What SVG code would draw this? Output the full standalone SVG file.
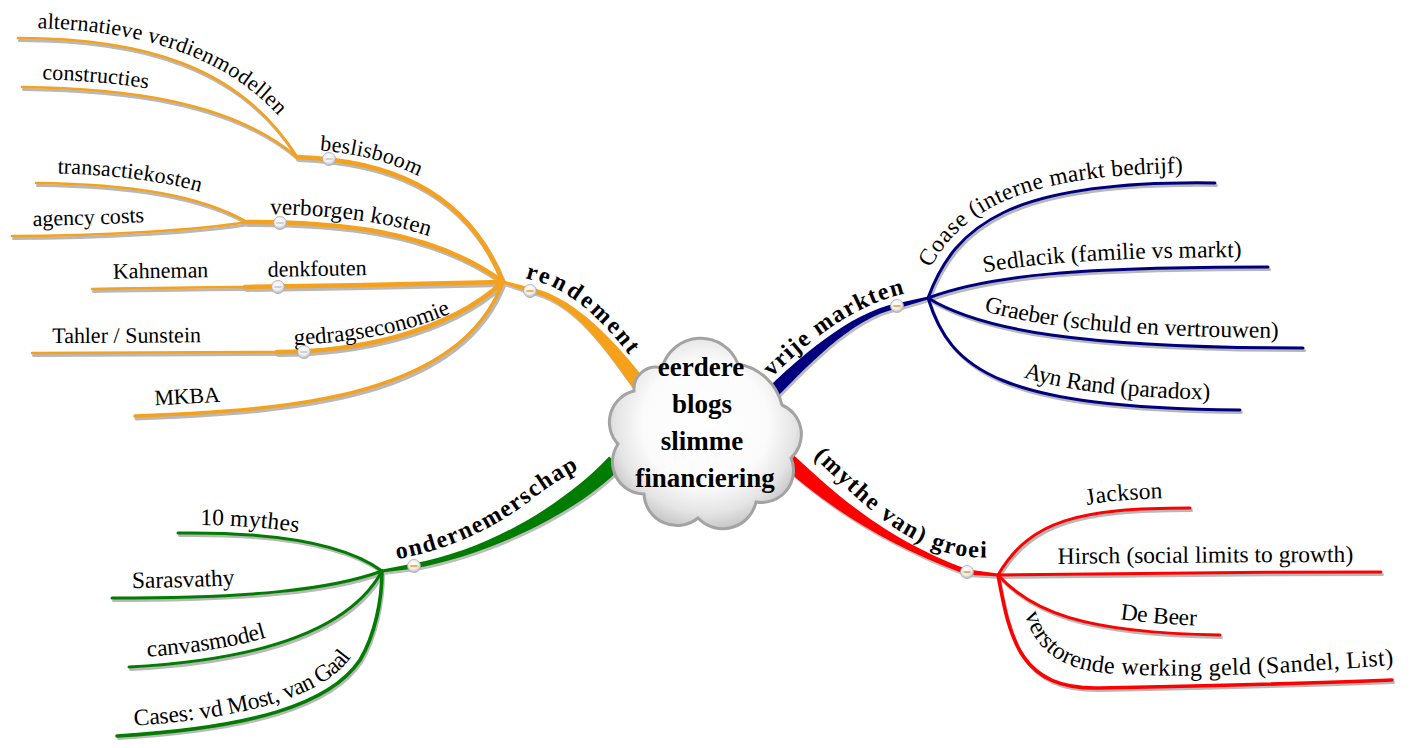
<svg xmlns="http://www.w3.org/2000/svg" width="1410" height="748" viewBox="0 0 1410 748">
<style>
.ln{fill:none;stroke-linecap:round;stroke-linejoin:round}
.sh{fill:none;stroke:#b8b8b8;stroke-linecap:round}
.o{stroke:#f6a11c}
.b{stroke:#00007e}
.r{stroke:#ff0000}
.g{stroke:#007c00}
.w2{stroke-width:4.5}
.w1{stroke-width:2.6}
text{font-family:'Liberation Serif','Times New Roman',serif;fill:#000}
.t{font-size:22px}
.tr{font-size:23.5px}
.tb{font-weight:bold;letter-spacing:2px;font-size:24px}
.ct{font-size:27px;font-weight:bold;text-anchor:middle}
</style>
<defs>
<radialGradient id="cloudG" cx="50%" cy="45%" r="55%">
<stop offset="0" stop-color="#ffffff"/>
<stop offset="0.6" stop-color="#fbfbfb"/>
<stop offset="0.85" stop-color="#e4e4e4"/>
<stop offset="1" stop-color="#c9c9c9"/>
</radialGradient>
<radialGradient id="dotG" cx="45%" cy="35%" r="65%">
<stop offset="0" stop-color="#ffffff"/>
<stop offset="0.6" stop-color="#eeeeee"/>
<stop offset="1" stop-color="#b5b5b5"/>
</radialGradient>
<g id="dotA"><circle r="6.5" fill="url(#dotG)" stroke="#a8a8a8" stroke-width="0.8"/><line x1="-3.5" y1="0" x2="3.5" y2="0" stroke="#f4a64a" stroke-width="1.8"/></g>
<g id="dotB"><circle r="6.5" fill="url(#dotG)" stroke="#a8a8a8" stroke-width="0.8"/><line x1="-3.5" y1="0" x2="3.5" y2="0" stroke="#c8c8c8" stroke-width="1.6"/></g>
<!-- orange -->
<path id="p_alt" d="M18,38 C140,38 240,65 297,157"/>
<path id="p_con" d="M22,87 C120,88 230,100 297,157"/>
<path id="p_bes" d="M297,157 C380,160 465,185 503,282"/>
<path id="p_tra" d="M36,183 C130,184 200,195 247,222"/>
<path id="p_age" d="M12,236 C100,236 200,230 247,222"/>
<path id="p_ver" d="M247,222 C330,222 430,228 503,282"/>
<path id="p_kah" d="M92,289 C150,288 200,287 245,287"/>
<path id="p_den" d="M245,287 C330,286 420,284 503,282"/>
<path id="p_tah" d="M32,353 C120,353 200,352 277,352"/>
<path id="p_ged" d="M277,352 C350,352 445,335 503,282"/>
<path id="t_ged" d="M290,345 C350,343 420,333 472,302"/>
<path id="p_mkb" d="M135,416 C300,410 460,395 503,282"/>
<path id="p_ren" d="M503,282 L530,290 C580,300 620,360 648,395"/>
<!-- green -->
<path id="p_myt" d="M178,533 C260,532 340,540 382,571"/>
<path id="p_sar" d="M112,598 C250,598 330,590 382,571"/>
<path id="p_can" d="M129,667 C260,660 350,630 382,571"/>
<path id="p_cas" d="M117,736 C250,728 330,705 360,660 C375,635 382,600 382,571"/>
<path id="t_ond" d="M385,561 C450,552 500,525 535,497 C555,482 575,470 605,456"/>
<!-- blue -->
<path id="p_coa" d="M928,298 C955,225 1010,180 1215,183"/>
<path id="p_sed" d="M928,298 C990,275 1080,267 1268,267"/>
<path id="p_gra" d="M928,298 C980,330 1080,348 1303,348"/>
<path id="p_ayn" d="M928,298 C950,370 1000,408 1240,410"/>
<path id="t_vri" d="M764,385 C797,352 840,313 892,297 L935,285"/>
<!-- red -->
<path id="p_jac" d="M998,575 C1030,520 1080,508 1190,508"/>
<path id="p_hir" d="M998,575 C1100,573 1250,572 1381,572"/>
<path id="p_deb" d="M998,575 C1030,610 1080,633 1220,635"/>
<path id="p_vst" d="M998,575 C1010,640 1020,690 1100,688 C1200,686 1300,684 1392,680"/>
<path id="t_vst" d="M1024,610 C1032,645 1055,668 1105,673 C1200,680 1300,672 1405,664"/>
<path id="t_gro" d="M806,450 C843,483 880,527 930,547 C955,557 975,559 1008,557"/>
</defs>

<rect width="1410" height="748" fill="#ffffff"/>

<g id="connectors">
  <g transform="translate(1.5,2.5)" class="sh" stroke-width="3">
    <use href="#p_alt"/><use href="#p_con"/><use href="#p_bes" stroke-width="5"/><use href="#p_tra"/><use href="#p_age"/>
    <use href="#p_ver" stroke-width="5"/><use href="#p_kah"/><use href="#p_den" stroke-width="5"/><use href="#p_tah"/><use href="#p_ged" stroke-width="5"/><use href="#p_mkb" stroke-width="4"/>
    <use href="#p_myt"/><use href="#p_sar"/><use href="#p_can"/><use href="#p_cas"/>
    <use href="#p_coa"/><use href="#p_sed"/><use href="#p_gra"/><use href="#p_ayn"/>
    <use href="#p_jac"/><use href="#p_hir"/><use href="#p_deb"/><use href="#p_vst"/>
  </g>
  <g fill="#bdbdbd" transform="translate(1.5,2.5)">
    <path d="M653.9,390.3 C625.9,355.3 580.5,297.5 530.5,287.5 L503,280.5 L503,283.5 L529.5,292.5 C579.5,302.5 614.1,364.7 642.1,399.7 Z"/>
    <path d="M760.4,395.4 C795.4,360.4 849.5,312.5 896.5,303.5 L928,296.5 L928,299.5 L897.5,308.5 C850.5,317.5 804.6,369.6 769.6,404.6 Z"/>
    <path d="M787.4,449.2 C830.4,489.2 880.9,537.6 967.9,569.6 L998,573.5 L998,576.5 L966.1,574.4 C879.1,542.4 819.6,500.8 776.6,460.8 Z"/>
    <path d="M609.1,456.6 C574.1,494.6 499.5,547.5 413.5,563.5 L382,569.5 L382,572.5 L414.5,568.5 C500.5,552.5 585.9,505.4 620.9,467.4 Z"/>
  </g>
  <path fill="#f6a11c" d="M653.9,390.3 C625.9,355.3 580.5,297.5 530.5,287.5 L503,280.5 L503,283.5 L529.5,292.5 C579.5,302.5 614.1,364.7 642.1,399.7 Z"/>
  <path fill="#00007e" d="M760.4,395.4 C795.4,360.4 849.5,312.5 896.5,303.5 L928,296.5 L928,299.5 L897.5,308.5 C850.5,317.5 804.6,369.6 769.6,404.6 Z"/>
  <path fill="#ff0000" d="M787.4,449.2 C830.4,489.2 880.9,537.6 967.9,569.6 L998,573.5 L998,576.5 L966.1,574.4 C879.1,542.4 819.6,500.8 776.6,460.8 Z"/>
  <path fill="#007c00" d="M609.1,456.6 C574.1,494.6 499.5,547.5 413.5,563.5 L382,569.5 L382,572.5 L414.5,568.5 C500.5,552.5 585.9,505.4 620.9,467.4 Z"/>
  <g class="ln o w1">
    <use href="#p_alt"/><use href="#p_con"/><use href="#p_tra"/><use href="#p_age"/><use href="#p_kah"/><use href="#p_tah"/>
  </g>
  <g class="ln o w2">
    <use href="#p_bes"/><use href="#p_ver"/><use href="#p_den"/><use href="#p_ged"/><use href="#p_mkb" stroke-width="3.5"/>
  </g>
  <g class="ln g" stroke-width="3">
    <use href="#p_myt"/><use href="#p_sar"/><use href="#p_can"/><use href="#p_cas" stroke-width="3.6"/>
  </g>
  <g class="ln b" stroke-width="3">
    <use href="#p_coa"/><use href="#p_sed"/><use href="#p_gra"/><use href="#p_ayn"/>
  </g>
  <g class="ln r" stroke-width="3">
    <use href="#p_jac"/><use href="#p_hir"/><use href="#p_deb"/><use href="#p_vst" stroke-width="3.6"/>
  </g>
</g>

<g id="center">
  <path d="M662,368 A40,40 0 0 1 738,364 A55,55 0 0 1 782,405 A32,32 0 0 1 791,458 A32,32 0 0 1 756,502 A34,34 0 0 1 698,518 A33,33 0 0 1 644,494 A32,32 0 0 1 618,444 A32,32 0 0 1 634,391 A22,22 0 0 1 662,368 Z" fill="url(#cloudG)" stroke="#a3a3a3" stroke-width="3"/>
  <text class="ct" x="701" y="376">eerdere</text>
  <text class="ct" x="702" y="413">blogs</text>
  <text class="ct" x="702" y="450">slimme</text>
  <text class="ct" x="705" y="487">financiering</text>
</g>

<g id="node-rendement">
  <text class="tb"><textPath href="#p_ren" startOffset="20"><tspan dy="-10">rendement</tspan></textPath></text>
  <use href="#dotA" transform="translate(530,291)"/>
</g>
<g id="node-beslisboom">
  <text class="t"><textPath href="#p_bes" startOffset="22"><tspan dy="-8">beslisboom</tspan></textPath></text>
  <use href="#dotB" transform="translate(329,159)"/>
</g>
<g id="node-alternatieve"><text class="t"><textPath href="#p_alt" startOffset="19"><tspan dy="-10">alternatieve verdienmodellen</tspan></textPath></text></g>
<g id="node-constructies"><text class="t"><textPath href="#p_con" startOffset="20"><tspan dy="-8">constructies</tspan></textPath></text></g>
<g id="node-verborgen">
  <text class="t" style="font-size:23px"><textPath href="#p_ver" startOffset="23"><tspan dy="-8">verborgen kosten</tspan></textPath></text>
  <use href="#dotB" transform="translate(280,223)"/>
</g>
<g id="node-transactiekosten"><text class="t"><textPath href="#p_tra" startOffset="21"><tspan dy="-10">transactiekosten</tspan></textPath></text></g>
<g id="node-agency"><text class="t"><textPath href="#p_age" startOffset="21"><tspan dy="-10">agency costs</tspan></textPath></text></g>
<g id="node-denkfouten">
  <text class="t"><textPath href="#p_den" startOffset="23"><tspan dy="-10">denkfouten</tspan></textPath></text>
  <use href="#dotB" transform="translate(278,287)"/>
</g>
<g id="node-kahneman"><text class="t"><textPath href="#p_kah" startOffset="21"><tspan dy="-10">Kahneman</tspan></textPath></text></g>
<g id="node-gedragseconomie">
  <text class="t" style="font-size:23px"><textPath href="#t_ged" startOffset="4">gedragseconomie</textPath></text>
  <use href="#dotB" transform="translate(304,352)"/>
</g>
<g id="node-tahler"><text class="t"><textPath href="#p_tah" startOffset="20"><tspan dy="-10">Tahler / Sunstein</tspan></textPath></text></g>
<g id="node-mkba"><text class="t"><textPath href="#p_mkb" startOffset="20"><tspan dy="-10">MKBA</tspan></textPath></text></g>

<g id="node-vrije-markten">
  <text class="tb" style="letter-spacing:1.4px"><textPath href="#t_vri" startOffset="11">vrije markten</textPath></text>
  <use href="#dotA" transform="translate(897,306)"/>
</g>
<g id="node-coase"><text class="tr"><textPath href="#p_coa" startOffset="27"><tspan dy="-10">Coase (interne markt bedrijf)</tspan></textPath></text></g>
<g id="node-sedlacik"><text class="tr"><textPath href="#p_sed" startOffset="60"><tspan dy="-10">Sedlacik (familie vs markt)</tspan></textPath></text></g>
<g id="node-graeber"><text class="tr"><textPath href="#p_gra" startOffset="58"><tspan dy="-10">Graeber (schuld en vertrouwen)</tspan></textPath></text></g>
<g id="node-aynrand"><text class="tr"><textPath href="#p_ayn" startOffset="135"><tspan dy="-10">Ayn Rand (paradox)</tspan></textPath></text></g>

<g id="node-groei">
  <text class="tb" style="letter-spacing:1.6px"><textPath href="#t_gro" startOffset="10">(mythe van) groei</textPath></text>
  <use href="#dotA" transform="translate(967,572)"/>
</g>
<g id="node-jackson"><text class="tr"><textPath href="#p_jac" startOffset="113"><tspan dy="-10">Jackson</tspan></textPath></text></g>
<g id="node-hirsch"><text class="tr"><textPath href="#p_hir" startOffset="60"><tspan dy="-10">Hirsch (social limits to growth)</tspan></textPath></text></g>
<g id="node-debeer"><text class="tr"><textPath href="#p_deb" startOffset="135"><tspan dy="-9">De Beer</tspan></textPath></text></g>
<g id="node-verstorende"><text class="tr" style="font-size:24px;letter-spacing:0.4px"><textPath href="#t_vst" startOffset="4">verstorende werking geld (Sandel, List)</textPath></text></g>

<g id="node-ondernemerschap">
  <text class="tb" style="letter-spacing:1.5px"><textPath href="#t_ond" startOffset="12">ondernemerschap</textPath></text>
  <use href="#dotA" transform="translate(414,566)"/>
</g>
<g id="node-10mythes"><text class="tr"><textPath href="#p_myt" startOffset="22"><tspan dy="-8">10 mythes</tspan></textPath></text></g>
<g id="node-sarasvathy"><text class="tr"><textPath href="#p_sar" startOffset="20"><tspan dy="-10">Sarasvathy</tspan></textPath></text></g>
<g id="node-canvasmodel"><text class="tr"><textPath href="#p_can" startOffset="19"><tspan dy="-9">canvasmodel</tspan></textPath></text></g>
<g id="node-cases"><text class="tr"><textPath href="#p_cas" startOffset="18"><tspan dy="-9">Cases: vd Most, van Gaal</tspan></textPath></text></g>
</svg>
